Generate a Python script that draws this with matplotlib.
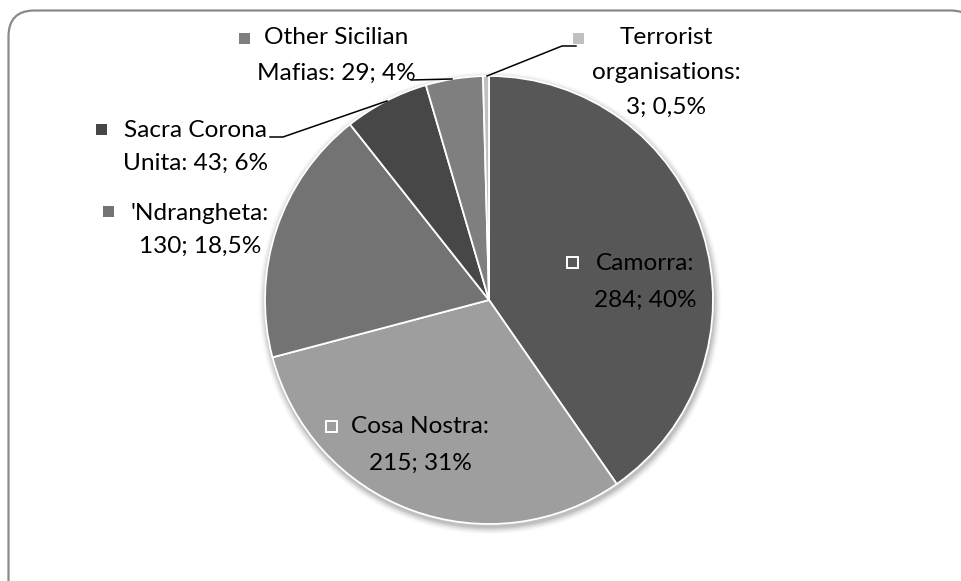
import matplotlib
matplotlib.use("Agg")
import matplotlib.pyplot as plt
from matplotlib.patches import FancyBboxPatch, Rectangle, Circle

# ---- data ----
names = ["Camorra", "Cosa Nostra", "'Ndrangheta", "Sacra Corona\nUnita",
         "Other Sicilian\nMafias", "Terrorist\norganisations"]
values = [284, 215, 130, 43, 29, 3]
pcts = ["40%", "31%", "18,5%", "6%", "4%", "0,5%"]
break_after_colon = [True, True, True, False, False, True]
colors = ["#575757", "#9e9e9e", "#737373", "#474747", "#7f7f7f", "#c0c0c0"]
hollow_marker = [True, True, False, False, False, False]

# ---- layout (pixels) ----
W, H = 962, 581
CX, CY, R = 489, 300, 224
label_cx = [645, 420, 200, 196, 336, 666]
label_y1 = [263, 427, 213, 130, 37, 37]
label_dy = [37, 36, 33, 33, 36, 35]
marker_xy = [(573, 262), (332, 426), (109, 211), (102, 129), (245, 38), (579, 38)]
FONT = "Lato"
FS = 17.6

fig = plt.figure(figsize=(W / 100, H / 100), dpi=100)
ax = fig.add_axes([0, 0, 1, 1])

# soft shadow
for k, a in zip(range(8, 0, -1), [0.015, 0.02, 0.025, 0.03, 0.035, 0.04, 0.05, 0.06]):
    ax.add_patch(Circle((CX + 1, CY + 3), R + k * 0.9, facecolor="#000000",
                        edgecolor="none", alpha=a, zorder=1))

wedges, _ = ax.pie(values, colors=colors, center=(CX, CY), radius=R,
                   startangle=-90, counterclock=True,
                   wedgeprops=dict(edgecolor="white", linewidth=1.3))
for w in wedges:
    w.set_zorder(2)

ax.set_xlim(0, W)
ax.set_ylim(H, 0)
ax.axis("off")

# rounded border (right and bottom sides run off the canvas)
ax.add_patch(FancyBboxPatch((8.5, 10.5), 968, 620,
                            boxstyle="round,pad=0,rounding_size=26",
                            facecolor="none", edgecolor="#8a8a8a",
                            linewidth=1.6, zorder=0, clip_on=True))

# labels
for i in range(len(values)):
    if break_after_colon[i]:
        txt = f"{names[i]}:\n{values[i]}; {pcts[i]}"
    else:
        txt = f"{names[i]}: {values[i]}; {pcts[i]}"
    lines = txt.split("\n")
    for j, ln in enumerate(lines):
        ax.text(label_cx[i], label_y1[i] + j * label_dy[i], ln,
                ha="center", va="center", fontsize=FS, family=FONT,
                color="#000000", zorder=5)
    mx, my = marker_xy[i]
    s = 11
    if hollow_marker[i]:
        ax.add_patch(Rectangle((mx - s / 2, my - s / 2), s, s, facecolor="none",
                               edgecolor="white", linewidth=1.4, zorder=5))
    else:
        ax.add_patch(Rectangle((mx - s / 2, my - s / 2), s, s,
                               facecolor=colors[i], edgecolor="none", zorder=5))

# leader lines
ax.plot([270, 283, 387], [137, 137, 101], color="black", lw=1.1, zorder=4)
ax.plot([411, 452], [80, 79], color="black", lw=1.1, zorder=4)
ax.plot([487, 562, 576], [76, 46, 46], color="black", lw=1.1, zorder=4)

fig.savefig("out.png", dpi=100)
